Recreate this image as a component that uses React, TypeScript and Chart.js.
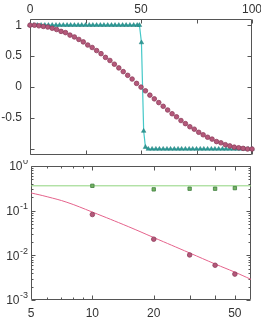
import React, { useEffect, useRef } from 'react';
import { Chart, registerables } from 'chart.js';

Chart.register(...registerables);

// ---------- top panel data ----------
const cosX = [0, 2, 4, 6, 8, 10, 12, 14, 16, 18, 20, 22, 24, 26, 28, 30, 32, 34, 36, 38, 40, 42, 44, 46, 48, 50,
  52, 54, 56, 58, 60, 62, 64, 66, 68, 70, 72, 74, 76, 78, 80, 82, 84, 86, 88, 90, 92, 94, 96, 98, 100];
const cosY = [1, 1, 0.99, 0.98, 0.97, 0.95, 0.93, 0.9, 0.88, 0.84, 0.81, 0.77, 0.73, 0.68, 0.64, 0.59, 0.54, 0.48,
  0.43, 0.37, 0.31, 0.25, 0.19, 0.13, 0.06, 0, -0.06, -0.13, -0.19, -0.25, -0.31, -0.37, -0.43, -0.48, -0.54,
  -0.59, -0.64, -0.68, -0.73, -0.77, -0.81, -0.84, -0.88, -0.9, -0.93, -0.95, -0.97, -0.98, -0.99, -1, -1];
const stepX = [0, 1.7, 3.3, 5, 6.7, 8.3, 10, 11.7, 13.3, 15, 16.7, 18.3, 20, 21.7, 23.3, 25, 26.7, 28.3, 30, 31.7,
  33.3, 35, 36.7, 38.3, 40, 41.7, 43.3, 45, 46.7, 48.3, 49.3, 50.2, 51.2, 52, 53.3, 55, 56.7, 58.3, 60, 61.7,
  63.3, 65, 66.7, 68.3, 70, 71.7, 73.3, 75, 76.7, 78.3, 80, 81.7, 83.3, 85, 86.7, 88.3, 90, 91.7, 93.3, 95,
  96.7, 98.3, 100];
const stepY = [1, 1, 1, 1, 1, 1, 1, 1, 1, 1, 1, 1, 1, 1, 1, 1, 1, 1, 1, 1, 1, 1, 1, 1, 1, 1, 1, 1, 1, 1, 1,
  0.72, -0.71, -0.97, -1, -1, -1, -1, -1, -1, -1, -1, -1, -1, -1, -1, -1, -1, -1, -1, -1, -1, -1, -1, -1, -1,
  -1, -1, -1, -1, -1, -1, -1];
const topXLabelVals = [0, 50, 100];
const topXTickVals = [0, 25, 50, 75, 100];
const topYLabelVals = [1, 0.5, 0, -0.5];
const topYTickVals = [-1, -0.5, 0, 0.5, 1];

// ---------- bottom panel data ----------
const sizeN = [10, 20, 30, 40, 50];
const greenPts = [0.36, 0.3, 0.31, 0.31, 0.32];
const pinkPts = [0.082, 0.023, 0.0102, 0.006, 0.0038];
const greenLineX = [5, 60];
const greenLineY = [0.36, 0.36];
const pinkLineX = [5, 6, 7.5, 10, 15, 20, 30, 40, 50, 60];
const pinkLineY = [0.25, 0.205, 0.154, 0.093, 0.044, 0.025, 0.0113, 0.0064, 0.0042, 0.0029];
const botXLabelVals = [5, 10, 20, 50];
const botXMajorTicks = [10, 20, 30, 40, 50];
const botXMinorTicks = [6, 7, 8, 9];
const botYDecades = [1, 0.1, 0.01, 0.001];
const botYExponents = ['0', '-1', '-2', '-3'];
const botYMinorMant = [2, 3, 4, 5, 6, 7, 8, 9];

const FONT = "'Liberation Sans', Arial, Helvetica, sans-serif";
const TXT = '#333333';
const FRAME = '#555555';
const PINK_FILL = '#b4587a';
const PINK_EDGE = '#8f3d5c';

const frameAndTicks = {
  id: 'frameAndTicks',
  beforeDatasetsDraw(chart: any, _a: any, opts: any) {
    const { ctx, chartArea: a } = chart;
    const xs = chart.scales.x;
    const ys = chart.scales.y;
    ctx.save();
    ctx.strokeStyle = FRAME;
    ctx.lineWidth = 1;
    const L = Math.round(a.left) + 0.5;
    const R = Math.round(a.right) - 0.5;
    const T = Math.round(a.top) + 0.5;
    const B = Math.round(a.bottom) - 0.5;
    ctx.beginPath();
    ctx.rect(L, T, R - L, B - T);
    for (const [v, len] of opts.xTicks) {
      const p = Math.round(xs.getPixelForValue(v)) + 0.5;
      ctx.moveTo(p, B); ctx.lineTo(p, B - len);
      ctx.moveTo(p, T); ctx.lineTo(p, T + len);
    }
    for (const [v, len] of opts.yTicks) {
      const p = Math.round(ys.getPixelForValue(v)) + 0.5;
      ctx.moveTo(L, p); ctx.lineTo(L + len, p);
      ctx.moveTo(R, p); ctx.lineTo(R - len, p);
    }
    ctx.stroke();
    ctx.restore();
  },
};

const logLabels = {
  id: 'logLabels',
  afterDraw(chart: any, _a: any, opts: any) {
    const { ctx, chartArea: a } = chart;
    const ys = chart.scales.y;
    ctx.save();
    ctx.fillStyle = TXT;
    ctx.textBaseline = 'middle';
    opts.values.forEach((v: number, i: number) => {
      const y = ys.getPixelForValue(v);
      const sup = opts.exps[i];
      ctx.font = `9px ${FONT}`;
      const w = ctx.measureText(sup).width;
      const xr = a.left - 3;
      ctx.textAlign = 'left';
      ctx.fillText(sup, xr - w, y - 4);
      ctx.font = `12px ${FONT}`;
      ctx.textAlign = 'right';
      ctx.fillText('10', xr - w - 0.5, y + 1);
    });
    ctx.restore();
  },
};

function fixSize(prop: 'width' | 'height', size: number) {
  return (axis: any) => {
    axis[prop] = size;
    axis.paddingLeft = 0;
    axis.paddingRight = 0;
    axis.paddingTop = 0;
    axis.paddingBottom = 0;
  };
}

export default function App() {
  const topRef = useRef<HTMLCanvasElement>(null);
  const botRef = useRef<HTMLCanvasElement>(null);

  useEffect(() => {
    Chart.defaults.font.family = FONT;
    Chart.defaults.font.size = 12;
    Chart.defaults.color = TXT;

    const top = new Chart(topRef.current!, {
      type: 'scatter',
      data: {
        datasets: [
          {
            data: cosX.map((x, i) => ({ x, y: cosY[i] })),
            showLine: false,
            pointStyle: 'circle',
            pointRadius: 2.3,
            pointBackgroundColor: PINK_FILL,
            pointBorderColor: PINK_EDGE,
            pointBorderWidth: 0.8,
            clip: false,
          },
          {
            data: stepX.map((x, i) => ({ x, y: stepY[i] })),
            showLine: true,
            borderColor: '#45c8c8',
            borderWidth: 1.2,
            pointStyle: 'triangle',
            pointRadius: 2.6,
            pointBackgroundColor: '#2e9a96',
            pointBorderColor: '#24807e',
            pointBorderWidth: 0.5,
            clip: false,
          },
        ],
      },
      options: {
        responsive: false,
        animation: false,
        events: [],
        layout: { padding: { left: 0, right: 9, top: 0, bottom: 0 } },
        plugins: {
          legend: { display: false },
          tooltip: { enabled: false },
          frameAndTicks: {
            xTicks: topXTickVals.map((v) => [v, 4]),
            yTicks: topYTickVals.map((v) => [v, 4]),
          },
        } as any,
        scales: {
          x: {
            type: 'linear', position: 'bottom', min: 0, max: 100,
            grid: { display: false, drawTicks: false }, border: { display: false },
            ticks: { display: false },
            afterFit: fixSize('height', 4),
          },
          x2: {
            type: 'linear', position: 'top', min: 0, max: 100,
            grid: { display: false, drawTicks: false }, border: { display: false },
            ticks: { padding: 2, maxRotation: 0, autoSkip: false, callback: (v: any) => String(v) },
            afterBuildTicks: (axis: any) => { axis.ticks = topXLabelVals.map((value) => ({ value })); },
            afterFit: fixSize('height', 19),
          },
          y: {
            type: 'linear', position: 'left', min: -1.1, max: 1.1,
            grid: { display: false, drawTicks: false }, border: { display: false },
            ticks: { padding: 8, autoSkip: false, callback: (v: any) => String(v) },
            afterBuildTicks: (axis: any) => { axis.ticks = topYLabelVals.map((value) => ({ value })); },
            afterFit: fixSize('width', 30),
          },
        } as any,
      },
      plugins: [frameAndTicks],
    } as any);

    const yTicksBot: [number, number][] = [];
    botYDecades.forEach((d) => {
      yTicksBot.push([d, 4]);
      if (d < 1) botYMinorMant.forEach((m) => yTicksBot.push([d * m, 2]));
    });

    const bot = new Chart(botRef.current!, {
      type: 'scatter',
      data: {
        datasets: [
          {
            data: sizeN.map((x, i) => ({ x, y: pinkPts[i] })),
            showLine: false,
            pointStyle: 'circle',
            pointRadius: 2.3,
            pointBackgroundColor: PINK_FILL,
            pointBorderColor: PINK_EDGE,
            pointBorderWidth: 0.8,
          },
          {
            data: sizeN.map((x, i) => ({ x, y: greenPts[i] })),
            showLine: false,
            pointStyle: 'rect',
            pointRadius: 2.4,
            pointBackgroundColor: '#74b262',
            pointBorderColor: '#3f7f3f',
            pointBorderWidth: 0.8,
          },
          {
            data: pinkLineX.map((x, i) => ({ x, y: pinkLineY[i] })),
            showLine: true,
            pointRadius: 0,
            borderColor: '#e5638c',
            borderWidth: 1,
            tension: 0.4,
          },
          {
            data: greenLineX.map((x, i) => ({ x, y: greenLineY[i] })),
            showLine: true,
            pointRadius: 0,
            borderColor: '#8fd47e',
            borderWidth: 1,
          },
        ],
      },
      options: {
        responsive: false,
        animation: false,
        events: [],
        layout: { padding: { left: 0, right: 10, top: 6, bottom: 0 } },
        plugins: {
          legend: { display: false },
          tooltip: { enabled: false },
          frameAndTicks: {
            xTicks: [...botXMajorTicks.map((v) => [v, 4]), ...botXMinorTicks.map((v) => [v, 2])],
            yTicks: yTicksBot,
          },
          logLabels: { values: botYDecades, exps: botYExponents },
        } as any,
        scales: {
          x: {
            type: 'logarithmic', position: 'bottom', min: 5, max: 60,
            grid: { display: false, drawTicks: false }, border: { display: false },
            ticks: { padding: 6, maxRotation: 0, autoSkip: false, callback: (v: any) => String(v) },
            afterBuildTicks: (axis: any) => { axis.ticks = botXLabelVals.map((value) => ({ value })); },
            afterFit: fixSize('height', 21),
          },
          y: {
            type: 'logarithmic', position: 'left', min: 0.001, max: 1,
            grid: { display: false, drawTicks: false }, border: { display: false },
            ticks: { display: false },
            afterFit: fixSize('width', 31),
          },
        } as any,
      },
      plugins: [frameAndTicks, logLabels],
    } as any);

    return () => {
      top.destroy();
      bot.destroy();
    };
  }, []);

  return (
    <div style={{ position: 'absolute', left: 0, top: 0, width: 261, height: 321, background: '#fff' }}>
      <canvas ref={topRef} width={261} height={160} style={{ display: 'block', position: 'absolute', left: 0, top: 0 }} />
      <canvas ref={botRef} width={261} height={161} style={{ display: 'block', position: 'absolute', left: 0, top: 160 }} />
    </div>
  );
}
